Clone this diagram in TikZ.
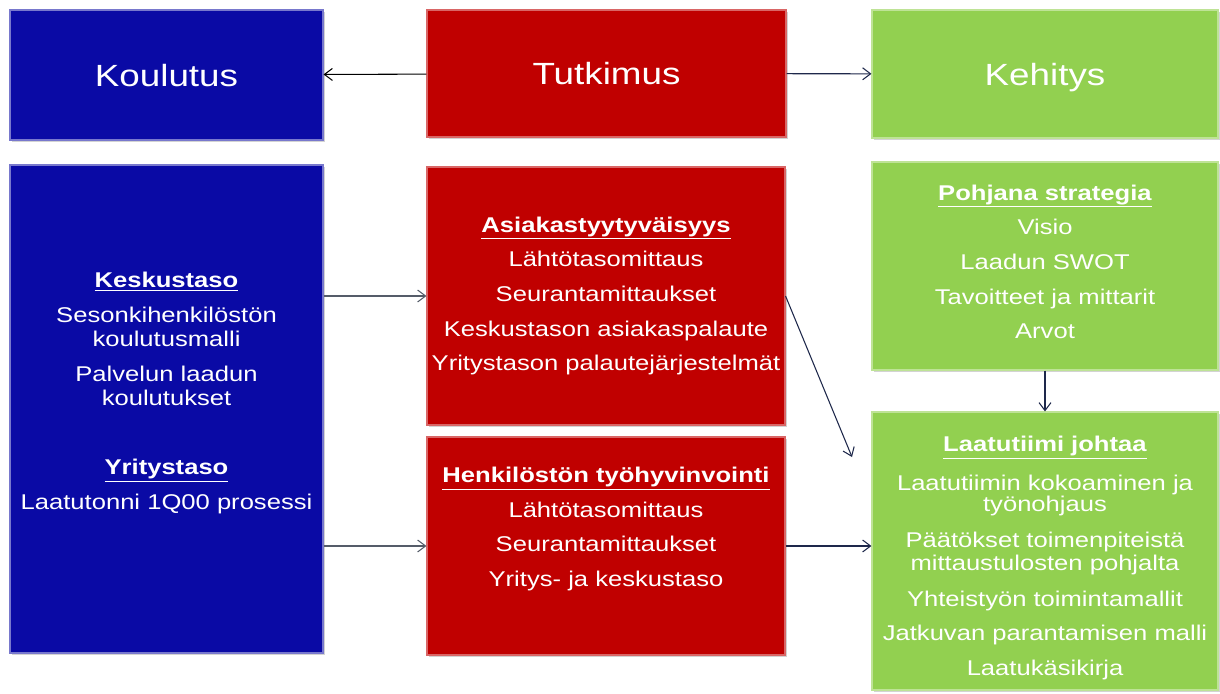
\documentclass[tikz,border=0pt]{standalone}
\usepackage{fontspec}
\setmainfont{Liberation Sans}[FakeStretch=1.2]
\usetikzlibrary{arrows.meta,calc,fit,positioning,shadows}
\definecolor{koulublue}{RGB}{10,10,165}
\definecolor{tutkired}{RGB}{192,0,0}
\definecolor{kehigreen}{RGB}{146,208,80}
\definecolor{navyline}{RGB}{30,40,75}
\definecolor{grayline}{RGB}{85,92,105}

\begin{document}
\begin{tikzpicture}[x=0.75pt,y=-0.75pt,>={Straight Barb[length=6pt,width=9pt]}]

    % Styles
    \tikzset{
        box/.style={rectangle, inner sep=0pt, line width=0.8pt, text=white,
            drop shadow={shadow xshift=1.5pt, shadow yshift=-1.5pt, opacity=0.35}},
        bluebox/.style={box, fill=koulublue, draw=koulublue!55!white},
        redbox/.style={box, fill=tutkired, draw=tutkired!60!white},
        greenbox/.style={box, fill=kehigreen, draw=kehigreen!60!white},
        title/.style={inner sep=0pt, text depth=0pt, text=white,
            font=\fontsize{23}{27}\selectfont},
        bodytext/.style={inner sep=0pt, align=center, text=white,
            font=\fontsize{16}{18}\selectfont},
        link/.style={->, line width=0.8pt, navyline}
    }

    % Frame of the picture
    \useasboundingbox (0,0) rectangle (1220,693);

    % Top row
    \node[bluebox, fit={(10,10) (323,140)},
        label={[title]center:Koulutus}] (koulutus) {};
    \node[redbox, fit={(427,10) (786,137)},
        label={[title]center:Tutkimus}] (tutkimus) {};
    \node[greenbox, fit={(872,10) (1218,138)},
        label={[title]center:Kehitys}] (kehitys) {};

    % Boxes below
    \node[bluebox, fit={(10,165) (323,653)}] (blue) {};
    \node[redbox, fit={(427,167) (785,425)}] (red1) {};
    \node[redbox, fit={(427,437) (785,655)}] (red2) {};
    \node[greenbox, fit={(872,162) (1218,370)}] (green1) {};
    \node[greenbox, fit={(872,412) (1218,690)}] (green2) {};

    % Texts in the boxes
    \node[bodytext] (bluetxt) at ($(blue.center)+(0,-16)$) {%
        \underline{\textbf{Keskustaso}}\\[8pt]
        Sesonkihenkilöstön\\koulutusmalli\\[8pt]
        Palvelun laadun\\koulutukset\\[34pt]
        \underline{\textbf{Yritystaso}}\\[8pt]
        Laatutonni 1Q00 prosessi};
    \node[bodytext] (red1txt) at ($(red1.center)+(0,0)$) {%
        \underline{\textbf{Asiakastyytyväisyys}}\\[8pt]
        Lähtötasomittaus\\[8pt]
        Seurantamittaukset\\[8pt]
        Keskustason asiakaspalaute\\[8pt]
        Yritystason palautejärjestelmät};
    \node[bodytext] (red2txt) at ($(red2.center)+(0,-17)$) {%
        \underline{\textbf{Henkilöstön työhyvinvointi}}\\[8pt]
        Lähtötasomittaus\\[8pt]
        Seurantamittaukset\\[8pt]
        Yritys- ja keskustaso};
    \node[bodytext] (green1txt) at ($(green1.center)+(0,-4)$) {%
        \underline{\textbf{Pohjana strategia}}\\[8pt]
        Visio\\[8pt]
        Laadun SWOT\\[8pt]
        Tavoitteet ja mittarit\\[8pt]
        Arvot};
    \node[bodytext] (green2txt) at ($(green2.center)+(0,7)$) {%
        \underline{\textbf{Laatutiimi johtaa}}\\[11pt]
        Laatutiimin kokoaminen ja\\[-2pt]työnohjaus\\[9pt]
        Päätökset toimenpiteistä\\[-1pt]mittaustulosten pohjalta\\[9pt]
        Yhteistyön toimintamallit\\[8pt]
        Jatkuvan parantamisen malli\\[8pt]
        Laatukäsikirja};

    % End of the slanted arrow
    \coordinate (slantend) at (852,457);

    % Arrows
    \draw[link, black] (tutkimus) -- (koulutus);
    \draw[link] (tutkimus) -- (kehitys);
    \draw[link, grayline] (blue.east |- red1.west) -- (red1.west);
    \draw[link, grayline] (blue.east |- red2.west) -- (red2.west);
    \draw[link] (red1.east) -- (slantend);
    \draw[link] (red2.east) -- (red2.east -| green2.west);
    \draw[link] (green1) -- (green2);

\end{tikzpicture}
\end{document}
